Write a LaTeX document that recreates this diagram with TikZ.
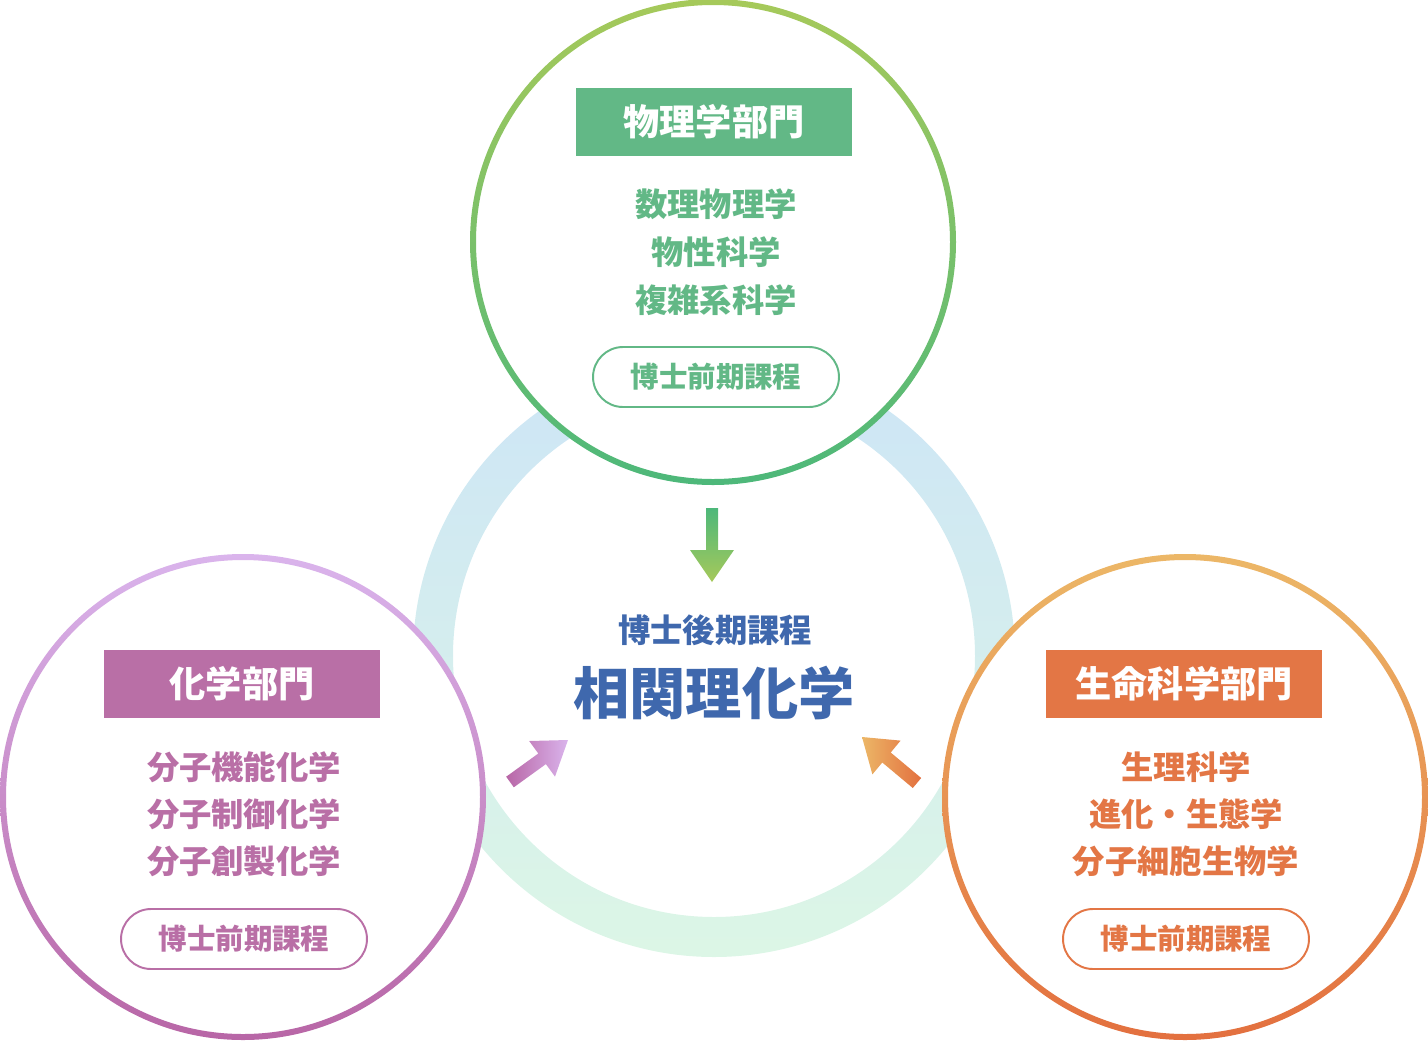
\documentclass[tikz,border=0pt]{standalone}
\usepackage{fontspec}
\newfontfamily\jpfont{Noto Sans CJK JP}
\usepackage{tikz}
\usetikzlibrary{calc, positioning}

\definecolor{physbox}{HTML}{62B886}
\definecolor{physlight}{HTML}{A6C95A}
\definecolor{physdark}{HTML}{4DB87A}
\definecolor{chembox}{HTML}{B96FA6}
\definecolor{chemlight}{HTML}{DAB4EC}
\definecolor{chemdark}{HTML}{B866A6}
\definecolor{lifebox}{HTML}{E37645}
\definecolor{lifelight}{HTML}{ECB767}
\definecolor{lifedark}{HTML}{E3703F}
\definecolor{ringblue}{HTML}{CDE5F6}
\definecolor{ringgreen}{HTML}{DCF6E6}
\definecolor{centreblue}{HTML}{3F68AD}

\begin{document}
\begin{tikzpicture}[x=0.02cm, y=-0.02cm,
    title/.style={fill=#1, text=white, minimum width=5.52cm, minimum height=1.36cm,
      inner sep=0pt, font=\jpfont\bfseries\fontsize{20.6pt}{24pt}\selectfont},
    item/.style={text=#1, inner sep=0pt, font=\jpfont\bfseries\fontsize{18.4pt}{22pt}\selectfont},
    course/.style={draw=#1, text=#1, line width=1.1pt, rounded corners=0.6cm,
      minimum width=4.92cm, minimum height=1.2cm, inner sep=0pt,
      font=\jpfont\bfseries\fontsize{16.2pt}{19pt}\selectfont}]
    \useasboundingbox (0,0) rectangle (1428,1042);

    % 1. Vòng tròn trung tâm
    \coordinate (centre) at (714,656);
    \shade[top color=ringblue, bottom color=ringgreen, even odd rule]
        (centre) circle[radius=301] (centre) circle[radius=261];

    % 2. Ba vòng tròn bộ môn
    \coordinate (phys) at (713,242);
    \coordinate (chem) at (243,797);
    \coordinate (life) at (1185,797);
    \fill[white] (phys) circle[radius=240];
    \shade[top color=physlight, bottom color=physdark, even odd rule]
        (phys) circle[radius=243] (phys) circle[radius=237];
    \fill[white] (chem) circle[radius=240];
    \shade[top color=chemlight, bottom color=chemdark, even odd rule]
        (chem) circle[radius=243] (chem) circle[radius=237];
    \fill[white] (life) circle[radius=240];
    \shade[top color=lifelight, bottom color=lifedark, even odd rule]
        (life) circle[radius=243] (life) circle[radius=237];

    % 3. Mũi tên
    \shade[top color=physdark, bottom color=physlight]
        (706,508) -- (718,508) -- (718,550) -- (734,550) -- (712,582)
        -- (690,550) -- (706,550) -- cycle;
    \shade[left color=chemdark, right color=chemlight]
        (506.2,776.7) -- (538.3,753.5) -- (529.2,741.0) -- (568,740)
        -- (555.0,776.6) -- (545.9,764.1) -- (513.8,787.3) -- cycle;
    \shade[left color=lifelight, right color=lifedark]
        (921.2,778.0) -- (890.7,752.5) -- (900.6,740.6) -- (862,737)
        -- (872.4,774.4) -- (882.3,762.5) -- (912.8,788.0) -- cycle;

    % 4. Chữ
    \node[title=physbox] (physTitle) at (714,122) {物理学部門};
    \node[item=physbox] (phys1) at (716,204) {数理物理学};
    \node[item=physbox] (phys2) at (716,252) {物性科学};
    \node[item=physbox] (phys3) at (716,300) {複雑系科学};
    \node[course=physbox] (physCourse) at (716,377) {博士前期課程};

    \node[title=chembox] (chemTitle) at (242,684) {化学部門};
    \node[item=chembox] (chem1) at (244,767) {分子機能化学};
    \node[item=chembox] (chem2) at (244,814) {分子制御化学};
    \node[item=chembox] (chem3) at (244,861) {分子創製化学};
    \node[course=chembox] (chemCourse) at (244,939) {博士前期課程};

    \node[title=lifebox] (lifeTitle) at (1184,684) {生命科学部門};
    \node[item=lifebox] (life1) at (1186,767) {生理科学};
    \node[item=lifebox] (life2) at (1186,814) {進化・生態学};
    \node[item=lifebox] (life3) at (1186,861) {分子細胞生物学};
    \node[course=lifebox] (lifeCourse) at (1186,939) {博士前期課程};

    \node[text=centreblue, font=\jpfont\bfseries\fontsize{18.4pt}{22pt}\selectfont]
        (doctor) at (715,630) {博士後期課程};
    \node[text=centreblue, font=\jpfont\bfseries\fontsize{32pt}{37pt}\selectfont]
        (major) at (714,693) {相関理化学};
\end{tikzpicture}
\end{document}
